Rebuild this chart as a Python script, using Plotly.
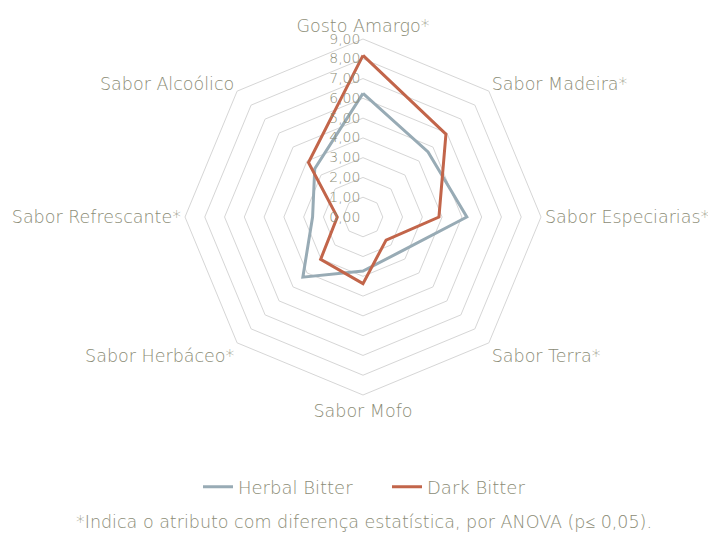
import plotly.graph_objects as go

categories = ["Gosto Amargo*", "Sabor Madeira*", "Sabor Especiarias*", "Sabor Terra*",
              "Sabor Mofo", "Sabor Herbáceo*", "Sabor Refrescante*", "Sabor Alcoólico"]
herbal = [6.25, 4.65, 5.25, 2.55, 2.73, 4.3, 2.55, 3.45]
dark = [8.17, 5.93, 3.84, 1.65, 3.37, 3.03, 1.3, 3.9]
tick_vals = [0, 1, 2, 3, 4, 5, 6, 7, 8, 9]

TXT = "#8b8c76"
FONT = "DejaVu Sans"
W = 200

fig = go.Figure()
fig.add_trace(go.Scatterpolar(r=herbal + [herbal[0]], theta=categories + [categories[0]],
                              mode="lines", name="Herbal Bitter",
                              line=dict(color="#98abb5", width=3)))
fig.add_trace(go.Scatterpolar(r=dark + [dark[0]], theta=categories + [categories[0]],
                              mode="lines", name="Dark Bitter",
                              line=dict(color="#c2654a", width=3)))

fig.update_layout(
    width=708, height=534,
    margin=dict(l=0, r=0, t=0, b=0),
    paper_bgcolor="white", plot_bgcolor="white",
    separators=",.",
    font=dict(family=FONT, color=TXT, size=17.5, weight=W),
    polar=dict(
        domain=dict(x=[185 / 708, 541 / 708], y=[139 / 534, 495 / 534]),
        bgcolor="white",
        gridshape="linear",
        radialaxis=dict(range=[0, 9], tickvals=tick_vals, tickformat=".2f",
                        ticksuffix='<span style="color:rgba(0,0,0,0)">00</span>',
                        angle=90, tickangle=90, showline=False, ticks="",
                        gridcolor="#d6d6d6", gridwidth=1,
                        tickfont=dict(size=14, color=TXT, family=FONT, weight=W),
                        side="counterclockwise"),
        angularaxis=dict(direction="clockwise", rotation=90, showgrid=False,
                         showline=True, linecolor="#d6d6d6", linewidth=1, ticks="",
                         tickfont=dict(size=17.5, color=TXT, family=FONT, weight=W)),
    ),
    legend=dict(orientation="h", x=198 / 708, xanchor="left", y=47 / 534, yanchor="middle",
                font=dict(size=18, color=TXT, family=FONT, weight=W), entrywidth=144),
    annotations=[dict(text="*Indica o atributo com diferença estatística, por ANOVA (p≤ 0,05).",
                      x=363.5 / 708, y=12 / 534, xref="paper", yref="paper", xanchor="center",
                      yanchor="middle", showarrow=False,
                      font=dict(size=17.5, color=TXT, family=FONT, weight=W))],
)

fig.write_html("out.html", config={"displayModeBar": False},
               post_script="document.body.style.margin='0';")
